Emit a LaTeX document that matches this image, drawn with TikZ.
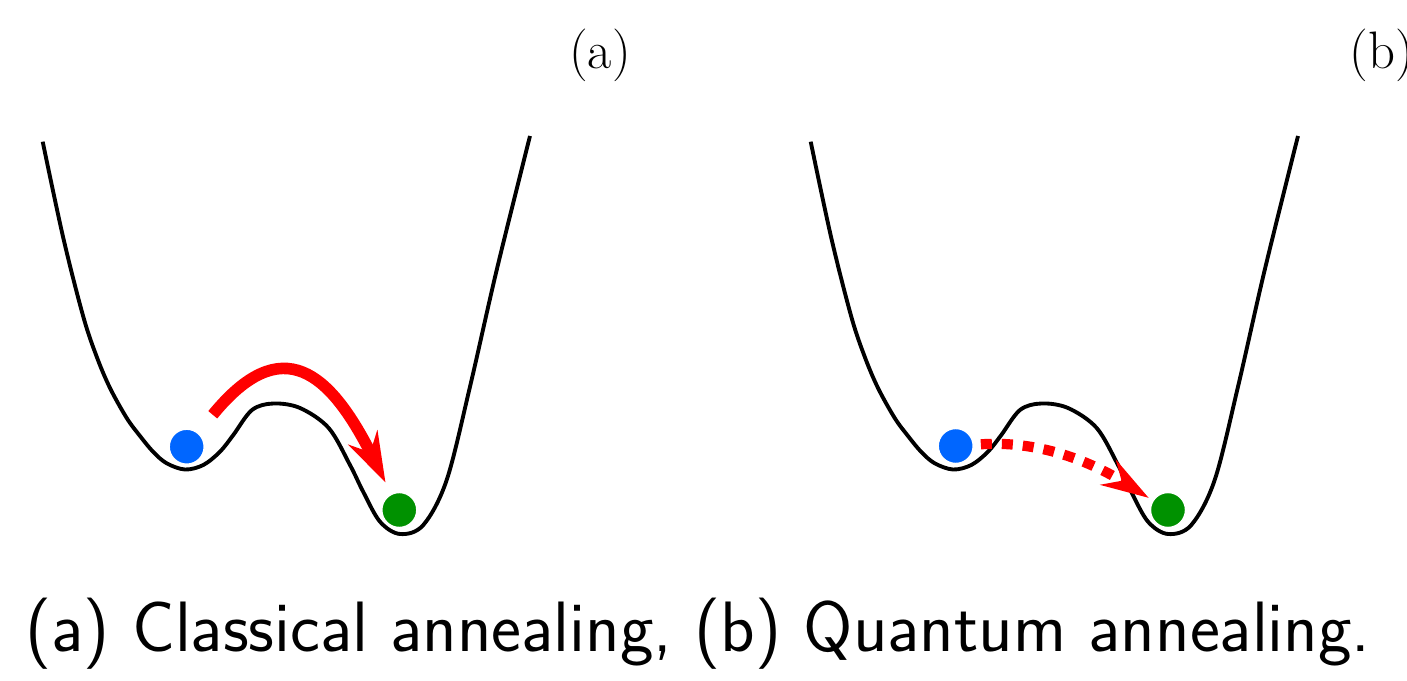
\documentclass[tikz,border=0pt]{standalone}
\usepackage{fontspec}
\usepackage{tikz}
\usetikzlibrary{arrows.meta, positioning}
\definecolor{ballblue}{RGB}{0,102,255}
\definecolor{ballgreen}{RGB}{0,145,0}
\tikzset{
  well/.style    = {line width=2.2pt, black},
  ball/.style    = {circle, fill, draw=white, line width=0.8pt, minimum size=7mm, inner sep=0pt},
  jump/.style    = {-{Stealth[length=10mm, width=6.4mm]}, line width=6.6pt, red},
  tunnel/.style  = {-{Stealth[length=9.5mm, width=5.8mm]}, line width=5.8pt, red,
                    dash pattern=on 2.2mm off 2mm},
  tag/.style     = {font=\fontsize{30}{36}\selectfont, inner sep=0pt},
  caption/.style = {font=\sffamily\fontsize{40.6}{48}\selectfont, inner sep=0pt},
}
\begin{document}
\begin{tikzpicture}[x=0.2mm, y=-0.2mm]
  \useasboundingbox (0,0) rectangle (1407,681);
  % double-well potentials
  \foreach \dx in {0,768} {
    \draw[well, shift={(\dx,0)}] plot[smooth, tension=0.55] coordinates {
      (42.7,141.7) (63.3,238) (83.3,316.7) (96.7,356.7) (110,388)
      (126.7,418) (140,436) (153.3,452) (166.7,463.3) (185,469.5)
      (203.3,465) (220,451.7) (233.3,435) (252,410) (273.3,403.5)
      (300,408) (328.7,428) (350,465) (363.3,492) (380,521.7)
      (400,534) (423.3,525) (446.7,480) (470,386.7) (496.7,270) (530,136)};
  }
  % balls
  \node[ball, fill=ballblue]  (blueA)  at (186.7,446.7) {};
  \node[ball, fill=ballgreen] (greenA) at (399.3,510) {};
  \node[ball, fill=ballblue]  (blueB)  at (955.7,446) {};
  \node[ball, fill=ballgreen] (greenB) at (1168,510) {};
  % thermal hop over the barrier, tunnelling through it
  \draw[jump, shorten <=4.6mm, shorten >=2.5mm]
    (blueA) .. controls (282,330) and (330,372) .. (greenA);
  \draw[tunnel, shorten <=1.4mm, shorten >=0.9mm]
    (blueB) .. controls (1045,440) and (1098,466) .. (greenB);
  % labels
  \node[tag] (tagA) at (600,55) {(a)};
  \node[tag] (tagB) at (1382,55) {(b)};
  \node[caption] (cap) at (698,634) {(a) Classical annealing, (b) Quantum annealing.};
\end{tikzpicture}
\end{document}
